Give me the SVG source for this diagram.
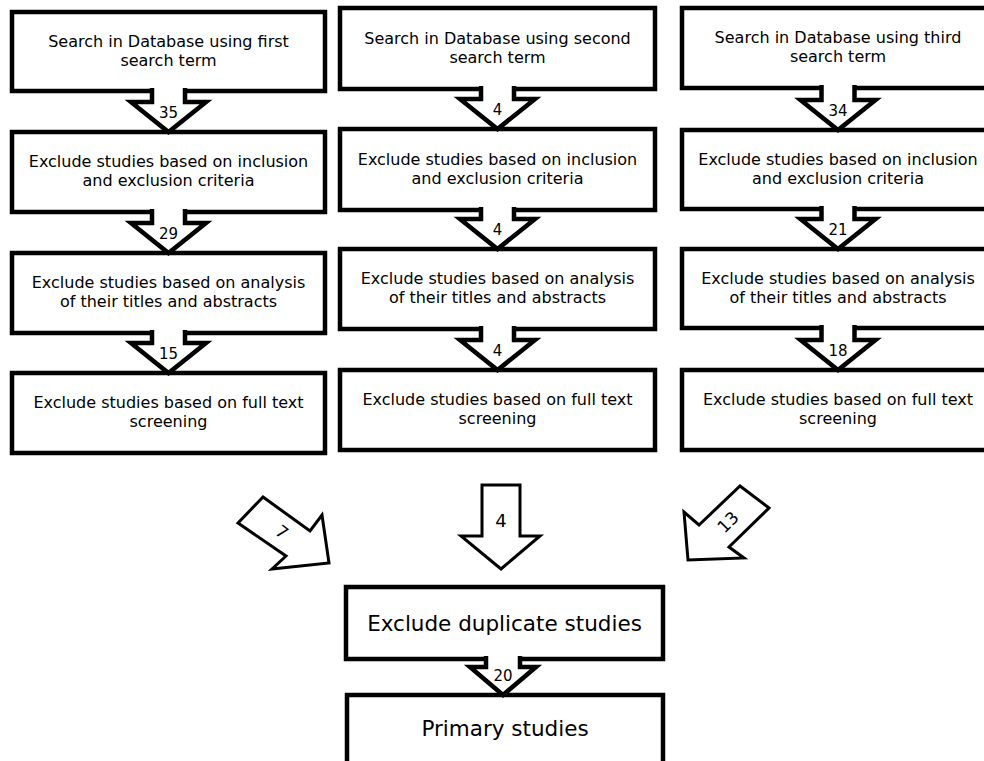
<svg xmlns="http://www.w3.org/2000/svg" width="984" height="761" viewBox="0 0 984 761">
<style>
.box{fill:#fff;stroke:#000;stroke-width:4.5}
.arr{fill:#fff;stroke:#000;stroke-width:4.5;stroke-linejoin:miter}
.arr2{fill:#fff;stroke:#000;stroke-width:3;stroke-linejoin:miter}
text{font-family:"DejaVu Sans","Open Sans",sans-serif;fill:#000;text-anchor:middle}
.t{font-size:16px}
.n{font-size:15px}
.big{font-size:21.5px}
</style>
<rect width="984" height="761" fill="#fff"/>
<g id="c1b1"><rect class="box" x="12" y="12" width="313" height="79"/><text class="t" x="168.5" y="47">Search in Database using first<tspan x="168.5" dy="18.7">search term</tspan></text></g>
<g id="c1b2"><rect class="box" x="12" y="132" width="313" height="80"/><text class="t" x="168.5" y="167">Exclude studies based on inclusion<tspan x="168.5" dy="18.7">and exclusion criteria</tspan></text></g>
<g id="c1b3"><rect class="box" x="12" y="253" width="313" height="80"/><text class="t" x="168.5" y="288">Exclude studies based on analysis<tspan x="168.5" dy="18.7">of their titles and abstracts</tspan></text></g>
<g id="c1b4"><rect class="box" x="12" y="373" width="313" height="80"/><text class="t" x="168.5" y="408">Exclude studies based on full text<tspan x="168.5" dy="18.7">screening</tspan></text></g>
<g id="c2b1"><rect class="box" x="340" y="8" width="315" height="81"/><text class="t" x="497.5" y="44">Search in Database using second<tspan x="497.5" dy="18.7">search term</tspan></text></g>
<g id="c2b2"><rect class="box" x="340" y="129" width="315" height="81"/><text class="t" x="497.5" y="165">Exclude studies based on inclusion<tspan x="497.5" dy="18.7">and exclusion criteria</tspan></text></g>
<g id="c2b3"><rect class="box" x="340" y="249" width="315" height="80"/><text class="t" x="497.5" y="284">Exclude studies based on analysis<tspan x="497.5" dy="18.7">of their titles and abstracts</tspan></text></g>
<g id="c2b4"><rect class="box" x="340" y="370" width="315" height="80"/><text class="t" x="497.5" y="405">Exclude studies based on full text<tspan x="497.5" dy="18.7">screening</tspan></text></g>
<g id="c3b1"><rect class="box" x="682" y="8" width="312" height="80"/><text class="t" x="838" y="43">Search in Database using third<tspan x="838" dy="18.7">search term</tspan></text></g>
<g id="c3b2"><rect class="box" x="682" y="130" width="312" height="79"/><text class="t" x="838" y="165">Exclude studies based on inclusion<tspan x="838" dy="18.7">and exclusion criteria</tspan></text></g>
<g id="c3b3"><rect class="box" x="682" y="249" width="312" height="79"/><text class="t" x="838" y="284">Exclude studies based on analysis<tspan x="838" dy="18.7">of their titles and abstracts</tspan></text></g>
<g id="c3b4"><rect class="box" x="682" y="370" width="312" height="80"/><text class="t" x="838" y="405">Exclude studies based on full text<tspan x="838" dy="18.7">screening</tspan></text></g>
<g id="dup"><rect class="box" x="346" y="587" width="317" height="72"/><text class="big" x="504.5" y="631">Exclude duplicate studies</text></g>
<g id="primary"><rect class="box" x="347" y="695" width="316" height="90"/><text class="big" x="505" y="736">Primary studies</text></g>
<g id="connectors">
<path class="arr" d="M152,88 V102 H131 L168.5,132 L206,102 H185 V88"/>
<path class="arr" d="M152,209 V223 H131 L168.5,253 L206,223 H185 V209"/>
<path class="arr" d="M152,330 V343 H131 L168.5,373 L206,343 H185 V330"/>
<path class="arr" d="M481,86 V99 H460 L497.5,129 L535,99 H514 V86"/>
<path class="arr" d="M481,207 V219 H460 L497.5,249 L535,219 H514 V207"/>
<path class="arr" d="M481,326 V340 H460 L497.5,370 L535,340 H514 V326"/>
<path class="arr" d="M821.5,85 V100 H800.5 L838,130 L875.5,100 H854.5 V85"/>
<path class="arr" d="M821.5,206 V219 H800.5 L838,249 L875.5,219 H854.5 V206"/>
<path class="arr" d="M821.5,325 V340 H800.5 L838,370 L875.5,340 H854.5 V325"/>
<path class="arr" d="M486,656 V667 H470 L503,695 L536,667 H520 V656"/>
<polygon class="arr2" points="482,485 520,485 520,536 540,536 501,569 461,536 482,536"/>
<polygon class="arr2" points="263,497 310,531 322,515 329,563 272,569 286,556 238,523"/>
<polygon class="arr2" points="740,486 769,508 729,547 744,558 688,560 684,512 699,525"/>
<text class="n" x="168.5" y="118">35</text>
<text class="n" x="168.5" y="239">29</text>
<text class="n" x="168.5" y="359">15</text>
<text class="n" x="497.5" y="115">4</text>
<text class="n" x="497.5" y="235">4</text>
<text class="n" x="497.5" y="356">4</text>
<text class="n" x="838" y="116">34</text>
<text class="n" x="838" y="235">21</text>
<text class="n" x="838" y="356">18</text>
<text class="n" x="503" y="681">20</text>
<text style="font-size:18px" x="501" y="527">4</text>
<text style="font-size:17px" x="0" y="6" transform="translate(282,532) rotate(37)">7</text>
<text style="font-size:17px" x="0" y="6" transform="translate(728,522) rotate(-45)">13</text>
</g>
</svg>
